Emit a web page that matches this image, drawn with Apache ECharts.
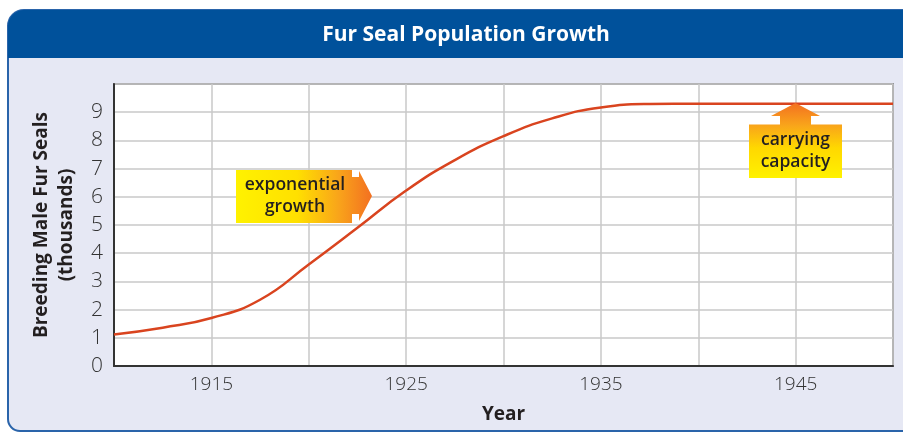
<!DOCTYPE html>
<html>
<head>
<meta charset="utf-8">
<script src="https://cdn.jsdelivr.net/npm/echarts@6/dist/echarts.min.js"></script>
<style>
  html, body { margin: 0; padding: 0; background: #fff; }
  #chart { width: 903px; height: 433px; }
</style>
</head>
<body>
<div id="chart"></div>
<script>
// data (thousands of breeding males)
const years = [1910, 1912.5, 1915, 1917.5, 1920, 1922.5, 1925, 1927.5, 1930, 1932.5, 1935, 1937.5, 1940, 1945, 1950]
const seals = [1.12, 1.36, 1.7, 2.35, 3.6, 4.9, 6.22, 7.3, 8.15, 8.78, 9.17, 9.29, 9.3, 9.3, 9.3]
const yTicks = [0, 1, 2, 3, 4, 5, 6, 7, 8, 9]
const xTickLabels = [1915, 1925, 1935, 1945]

const FONT = '"Open Sans", "Noto Sans", sans-serif'
const INK = '#231F20'

let chartDom = document.getElementById('chart')
let chart = echarts.init(chartDom)

const warmH = new echarts.graphic.LinearGradient(0, 0, 1, 0, [
  { offset: 0, color: '#FFF200' },
  { offset: 0.45, color: '#FFE000' },
  { offset: 0.75, color: '#F9A51A' },
  { offset: 1, color: '#F37021' }
])
const warmV = new echarts.graphic.LinearGradient(0, 0, 0, 1, [
  { offset: 0, color: '#F37021' },
  { offset: 0.3, color: '#F9A51A' },
  { offset: 0.6, color: '#FFD800' },
  { offset: 1, color: '#FFF200' }
])

let option = {
  animation: false,
  title: {
    text: 'Fur Seal Population Growth',
    left: 461,
    textAlign: 'center',
    top: 20,
    textStyle: { color: '#fff', fontFamily: FONT, fontWeight: 'bold', fontSize: 21 }
  },
  grid: {
    left: 114,
    right: 10,
    top: 84,
    bottom: 67,
    show: true,
    backgroundColor: '#fff',
    borderColor: '#555',
    borderWidth: 1.5
  },
  xAxis: {
    type: 'value',
    min: 1910,
    max: 1950,
    interval: 5,
    name: 'Year',
    nameLocation: 'middle',
    nameGap: 39,
    nameTextStyle: { color: INK, fontFamily: FONT, fontWeight: 'bold', fontSize: 19 },
    axisLine: { lineStyle: { color: '#333', width: 2 } },
    axisTick: { show: false },
    axisLabel: {
      margin: 9,
      color: '#333',
      fontFamily: FONT,
      fontWeight: 300,
      fontSize: 19,
      formatter: (v) => xTickLabels.indexOf(v) >= 0 ? String(v) : ''
    },
    splitLine: { lineStyle: { color: '#C9C9C9', width: 1.5 } }
  },
  yAxis: {
    type: 'value',
    min: 0,
    max: 10,
    interval: 1,
    name: 'Breeding Male Fur Seals\n(thousands)',
    nameLocation: 'middle',
    nameRotate: 90,
    nameGap: 35,
    nameTextStyle: { color: INK, fontFamily: FONT, fontWeight: 'bold', fontSize: 19, lineHeight: 25 },
    axisLine: { show: true, lineStyle: { color: '#333', width: 2 } },
    axisTick: { show: false },
    axisLabel: {
      margin: 11,
      color: '#333',
      fontFamily: FONT,
      fontWeight: 300,
      fontSize: 21,
      formatter: (v) => yTicks.indexOf(v) >= 0 ? String(v) : ''
    },
    splitLine: { lineStyle: { color: '#C9C9C9', width: 1.5 } }
  },
  series: [
    {
      type: 'line',
      data: years.map((y, i) => [y, seals[i]]),
      smooth: 0.5,
      symbol: 'none',
      lineStyle: { color: '#D9441F', width: 2.5 },
      z: 5
    }
  ],
  graphic: [
    // panel behind everything
    {
      type: 'rect',
      z: -20,
      shape: { x: 8, y: 10, width: 940, height: 421, r: [16, 0, 0, 12] },
      style: { fill: '#E6E8F4', stroke: '#2A64AA', lineWidth: 2 }
    },
    {
      type: 'rect',
      z: -19,
      shape: { x: 8, y: 10, width: 940, height: 48, r: [16, 0, 0, 0] },
      style: { fill: '#00519B' }
    },
    // exponential growth arrow
    {
      type: 'polygon',
      z: 50,
      shape: {
        points: [[236, 170], [352, 170], [352, 177], [359, 177], [359, 171], [372, 196],
                 [359, 221], [359, 214], [352, 214], [352, 223], [236, 223]]
      },
      style: { fill: warmH }
    },
    {
      type: 'text',
      z: 51,
      x: 295,
      y: 196,
      style: {
        text: 'exponential\ngrowth',
        align: 'center',
        verticalAlign: 'middle',
        fill: INK,
        font: '600 17.5px ' + FONT,
        lineHeight: 22
      }
    },
    // carrying capacity arrow
    {
      type: 'polygon',
      z: 50,
      shape: {
        points: [[795.5, 103], [820, 116], [811, 116], [811, 124.5], [842, 124.5], [842, 178],
                 [749, 178], [749, 124.5], [780, 124.5], [780, 116], [771, 116]]
      },
      style: { fill: warmV }
    },
    {
      type: 'text',
      z: 51,
      x: 795.5,
      y: 151,
      style: {
        text: 'carrying\ncapacity',
        align: 'center',
        verticalAlign: 'middle',
        fill: INK,
        font: '600 17.5px ' + FONT,
        lineHeight: 22
      }
    }
  ]
}

chart.setOption(option, true)
</script>
</body>
</html>
